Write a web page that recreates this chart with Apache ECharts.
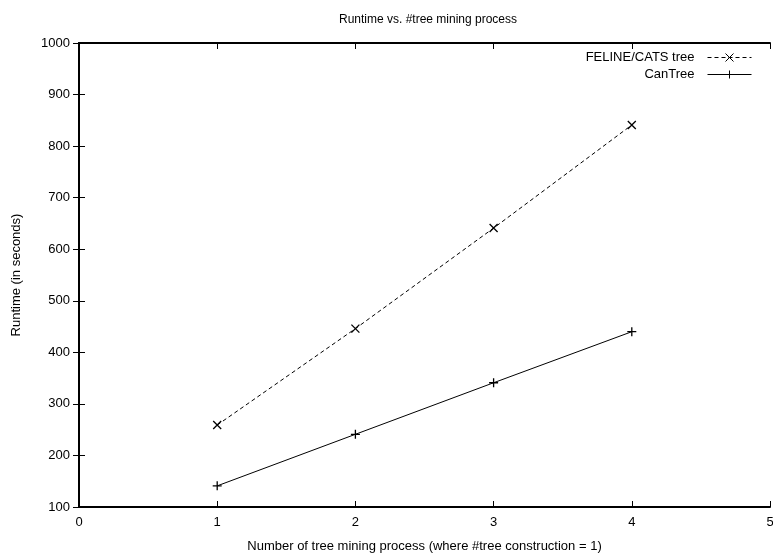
<!DOCTYPE html>
<html><head><meta charset="utf-8">
<script src="https://cdn.jsdelivr.net/npm/echarts@6/dist/echarts.min.js"></script>
<style>html,body{margin:0;padding:0;background:#fff}#c{width:773px;height:554px}</style>
</head><body><div id="c"></div>
<script>
const xValues = [1, 2, 3, 4];
const felineValues = [259, 446, 641, 841];
const canTreeValues = [141, 241, 341, 440];
const seriesNames = ['FELINE/CATS tree', 'CanTree'];
const titleText = 'Runtime vs. #tree mining process';
const xName = 'Number of tree mining process (where #tree construction = 1)';
const yName = 'Runtime (in seconds)';

const font = 'Liberation Sans, Arial, Helvetica, sans-serif';
const crossPath = 'path://M0,0L10,10M10,0L0,10';
const plusPath = 'path://M5,0L5,10M0,5L10,5';
const chart = echarts.init(document.getElementById('c'), null, {renderer: 'canvas'});
const axisCommon = {
  axisLine: {show: true, lineStyle: {color: '#000', width: 2}},
  axisTick: {show: true, inside: true, length: 6, lineStyle: {color: '#000', width: 1}},
  splitLine: {show: false}
};
chart.setOption({
  animation: false,
  backgroundColor: '#fff',
  title: {text: titleText, left: 423, top: 9, textAlign: 'center',
    textStyle: {fontFamily: font, fontSize: 12, fontWeight: 'normal', color: '#000'}},
  legend: {
    orient: 'vertical', right: 16, top: 46, align: 'right', itemGap: 4,
    itemWidth: 44, itemHeight: 10,
    lineStyle: {width: 1},
    itemStyle: {borderWidth: 1},
    textStyle: {fontFamily: font, fontSize: 13, color: '#000', padding: [0, 8, 0, 0]},
    data: seriesNames
  },
  grid: {left: 79, right: 3, top: 43, bottom: 47, containLabel: false, outerBoundsMode: 'none'},
  xAxis: [
    Object.assign({type: 'value', min: 0, max: 5, interval: 1, position: 'bottom',
      name: xName, nameLocation: 'middle', nameGap: 33,
      nameTextStyle: {fontFamily: font, fontSize: 13, color: '#000'},
      axisLabel: {fontFamily: font, fontSize: 13, color: '#000', margin: 9}}, axisCommon),
    Object.assign({type: 'value', min: 0, max: 5, interval: 1, position: 'top',
      axisLabel: {show: false}}, axisCommon)
  ],
  yAxis: [
    Object.assign({type: 'value', min: 100, max: 1000, interval: 100, position: 'left',
      name: yName, nameLocation: 'middle', nameGap: 56,
      nameTextStyle: {fontFamily: font, fontSize: 13, color: '#000'},
      axisLabel: {fontFamily: font, fontSize: 13, color: '#000', margin: 9,
        formatter: v => String(v)}}, axisCommon),
    Object.assign({type: 'value', min: 100, max: 1000, interval: 100, position: 'right',
      axisLabel: {show: false}}, axisCommon)
  ],
  series: [
    {name: seriesNames[0], type: 'line', data: xValues.map((x, i) => [x, felineValues[i]]),
      symbol: crossPath, symbolSize: 8,
      lineStyle: {color: '#000', width: 1, type: [4, 3]},
      itemStyle: {color: 'rgba(0,0,0,0)', borderColor: '#000', borderWidth: 1.3}},
    {name: seriesNames[1], type: 'line', data: xValues.map((x, i) => [x, canTreeValues[i]]),
      symbol: plusPath, symbolSize: 9,
      lineStyle: {color: '#000', width: 1},
      itemStyle: {color: 'rgba(0,0,0,0)', borderColor: '#000', borderWidth: 1.3}}
  ]
});
</script></body></html>
